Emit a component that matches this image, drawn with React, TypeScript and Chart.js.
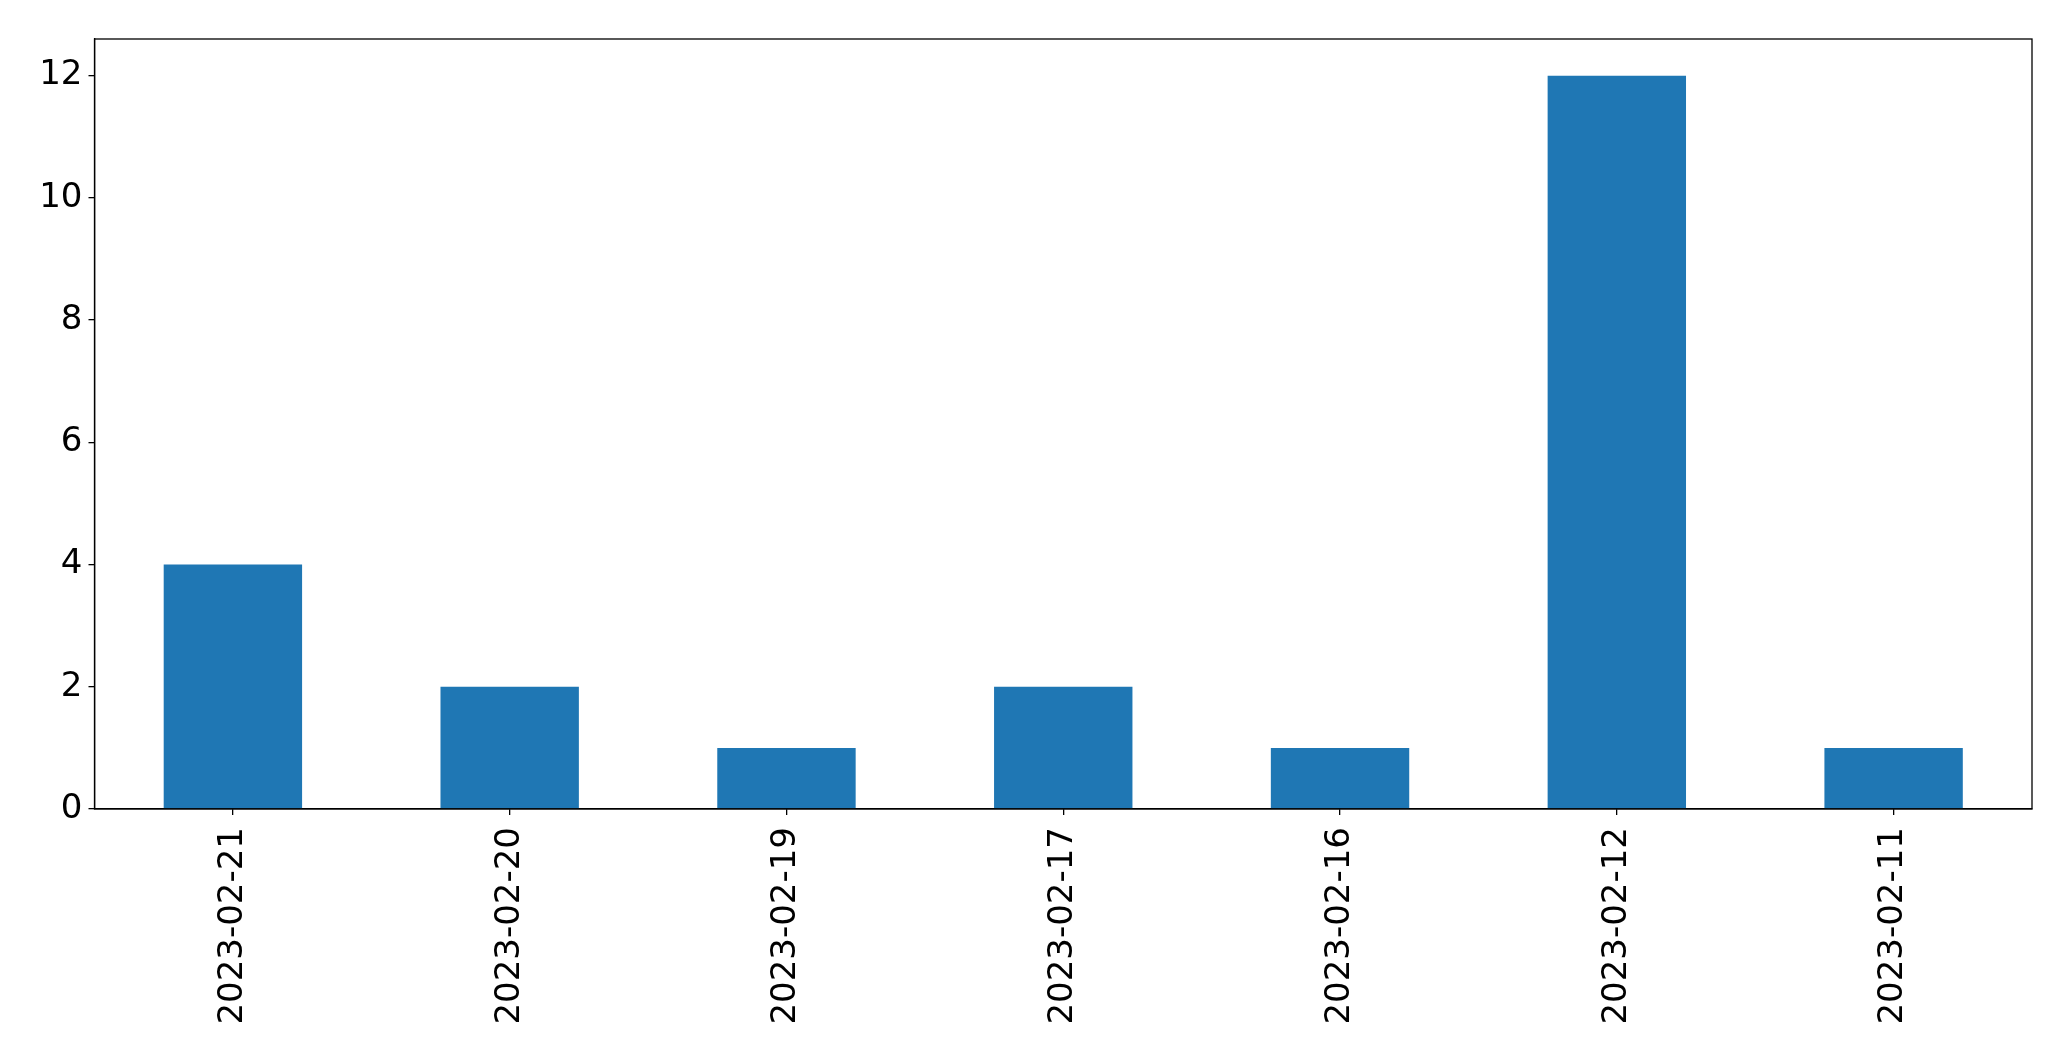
import React, { useEffect, useRef } from "react";
import { Chart, registerables } from "chart.js";

Chart.register(...registerables);

const categories = ["2023-02-21", "2023-02-20", "2023-02-19", "2023-02-17", "2023-02-16", "2023-02-12", "2023-02-11"];
const values = [4, 2, 1, 2, 1, 12, 1];
const yTicks = [0, 2, 4, 6, 8, 10, 12];

const FONT = "'DejaVu Sans', sans-serif";

const framePlugin = {
  id: "frame",
  afterDraw(chart: any) {
    const { ctx, chartArea } = chart;
    ctx.save();
    ctx.strokeStyle = "#000";
    ctx.lineWidth = 1.3;
    ctx.strokeRect(chartArea.left, chartArea.top, chartArea.right - chartArea.left, chartArea.bottom - chartArea.top);
    ctx.restore();
  },
};

export default function App() {
  const ref = useRef<HTMLCanvasElement | null>(null);
  useEffect(() => {
    if (!ref.current) return;
    const chart = new Chart(ref.current, {
      type: "bar",
      data: {
        labels: categories,
        datasets: [
          {
            data: values,
            backgroundColor: "#1f77b4",
            borderWidth: 0,
            barPercentage: 0.5,
            categoryPercentage: 1.0,
          },
        ],
      },
      options: {
        animation: false,
        responsive: true,
        maintainAspectRatio: false,
        layout: { padding: { top: 39, right: 39, left: 0, bottom: 0 } },
        plugins: { legend: { display: false }, tooltip: { enabled: false } },
        scales: {
          x: {
            offset: true,
            grid: { display: true, offset: false, drawOnChartArea: false, drawTicks: true, tickLength: 6, color: "#000", lineWidth: 1.3 },
            border: { display: true, color: "#000", width: 1.3 },
            ticks: {
              color: "#000",
              font: { family: FONT, size: 34 },
              minRotation: 90,
              maxRotation: 90,
              padding: 12,
              autoSkip: false,
            },
            afterFit(scale: any) {
              scale.height = 252;
            },
          },
          y: {
            min: 0,
            max: 12.6,
            afterBuildTicks(scale: any) {
              scale.ticks = yTicks.map((v) => ({ value: v }));
            },
            grid: { display: true, drawOnChartArea: false, drawTicks: true, tickLength: 6, color: "#000", lineWidth: 1.3 },
            border: { display: true, color: "#000", width: 1.3 },
            ticks: {
              color: "#000",
              font: { family: FONT, size: 34 },
              padding: 6,
            },
            afterFit(scale: any) {
              scale.width = 94.5;
            },
          },
        },
      },
      plugins: [framePlugin],
    });
    return () => chart.destroy();
  }, []);
  return (
    <div style={{ position: "absolute", left: 0, top: 0, width: 2071, height: 1061, background: "#fff" }}>
      <canvas ref={ref} />
    </div>
  );
}
